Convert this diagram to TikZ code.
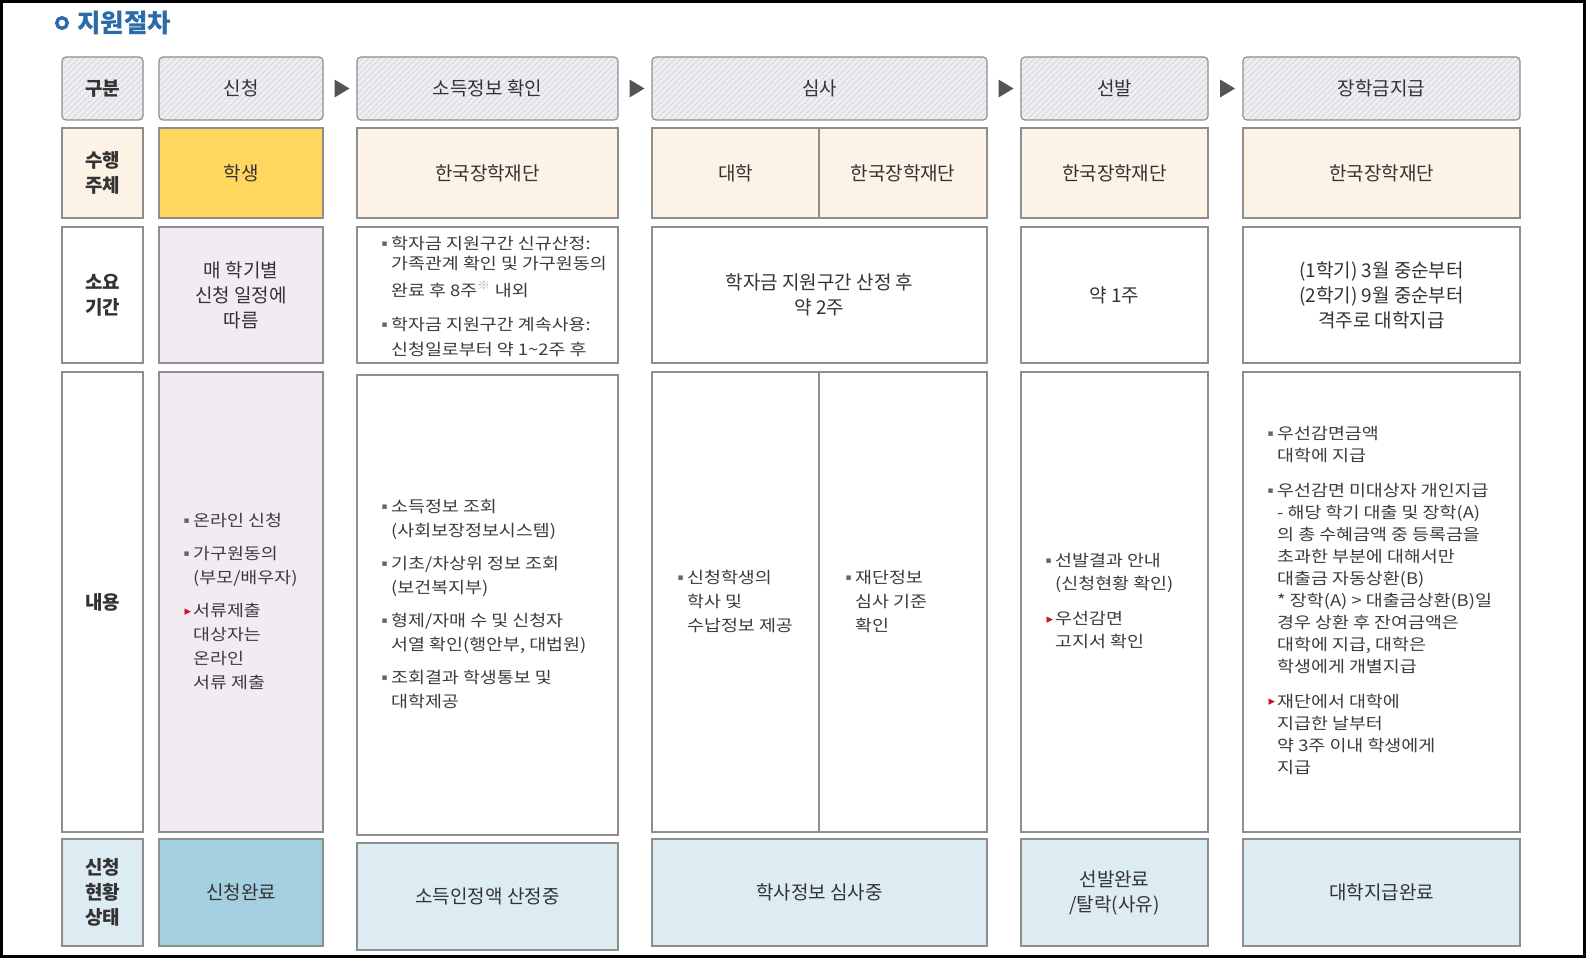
\documentclass[tikz,border=0pt]{standalone}
\usepackage{fontspec}
\setmainfont{Noto Sans CJK KR}
\newfontfamily\krbody[FakeStretch=1.15]{Noto Sans CJK KR}
\newfontfamily\symf{DejaVu Sans}
\usetikzlibrary{calc,patterns.meta}
\definecolor{titleblue}{HTML}{2B6CA8}
\definecolor{cellline}{HTML}{8E8E8E}
\definecolor{hatchbase}{HTML}{EDEEF2}
\definecolor{hatchline}{HTML}{C2C4CB}
\definecolor{cream}{HTML}{FCF2E6}
\definecolor{gold}{HTML}{FFD65E}
\definecolor{lavender}{HTML}{F1ECF2}
\definecolor{paleblue}{HTML}{DDECF2}
\definecolor{midblue}{HTML}{A4CFDF}
\definecolor{txt}{HTML}{333333}
\definecolor{bodytxt}{HTML}{3C3C3C}
\definecolor{bulgray}{HTML}{666666}
\definecolor{arrowgray}{HTML}{555555}
\definecolor{redmark}{HTML}{D0102A}
\newcommand{\bul}{\llap{\raisebox{3pt}{\symf\fontsize{9}{9}\selectfont\color{bulgray}▪}\hspace{3.5pt}}}
\newcommand{\rtri}{\llap{\raisebox{1.5pt}{\symf\fontsize{13}{13}\selectfont\color{redmark}▸}\hspace{2pt}}}

\begin{document}
\begin{tikzpicture}[x=1pt,y=-1pt,
  cell/.style={draw=cellline, line width=1.2pt, inner sep=0pt, align=center, text=txt, font=\fontsize{19}{25}\selectfont},
  head/.style={cell, rounded corners=4pt, preaction={fill=hatchbase}, pattern={Lines[angle=45,distance=4pt,line width=.6pt]}, pattern color=hatchline},
  lab/.style={cell, font=\bfseries\fontsize{19}{25}\selectfont},
  list/.style={anchor=west, align=left, inner sep=0pt, text=bodytxt, font=\krbody\fontsize{16}{24}\selectfont}]
  \useasboundingbox (0,0) rectangle (1586,958);
  \draw[line width=3pt] (1.5,1.5) rectangle (1584.5,956.5);
  % title
  \draw[titleblue, line width=3.4pt] (62,23) circle (5.3);
  \node[anchor=west, inner sep=0pt, text=titleblue, font=\bfseries\fontsize{25.5}{26}\selectfont] (title) at (77,23) {지원절차};
  % header row
  \node[head, font=\bfseries\fontsize{19}{25}\selectfont, minimum width=81, minimum height=63] (h0) at (102.5,88.5) {구분};
  \foreach \n/\xa/\xb/\t in {h1/159/323/신청, h2/357/618/소득정보 확인, h3/652/987/심사, h4/1021/1208/선발, h5/1243/1520/장학금지급}
    \node[head, minimum width={\xb-\xa}, minimum height=63] (\n) at ({(\xa+\xb)/2},88.5) {\t};
  \foreach \a/\b in {h1/h2,h2/h3,h3/h4,h4/h5}
    \fill[arrowgray] ($(\a.east)!.5!(\b.west)+(1.5,0)$) ++(-7,-9) -- ++(15,9) -- ++(-15,9) -- cycle;
  % left column
  \foreach \n/\ya/\yb/\c/\t in {a0/128/218/cream/{수행\\주체}, b0/227/363/white/{소요\\기간}, c0/372/832/white/내용, d0/839/946/paleblue/{신청\\현황\\상태}}
    \node[lab, fill=\c, minimum width=81, minimum height={\yb-\ya}] (\n) at (102.5,{(\ya+\yb)/2}) {\t};
  % row 1
  \foreach \n/\xa/\xb/\c/\t in {a1/159/323/gold/학생, a2/357/618/cream/한국장학재단, a3/652/819/cream/대학, a3b/819/987/cream/한국장학재단, a4/1021/1208/cream/한국장학재단, a5/1243/1520/cream/한국장학재단}
    \node[cell, fill=\c, minimum width={\xb-\xa}, minimum height=90] (\n) at ({(\xa+\xb)/2},173) {\t};
  % row 2
  \foreach \n/\xa/\xb/\c/\t in {b1/159/323/lavender/{매 학기별\\신청 일정에\\따름}, b2/357/618/white/{}, b3/652/987/white/{학자금 지원구간 산정 후\\약 2주}, b4/1021/1208/white/약 1주, b5/1243/1520/white/{(1학기) 3월 중순부터\\(2학기) 9월 중순부터\\격주로 대학지급}}
    \node[cell, fill=\c, minimum width={\xb-\xa}, minimum height=136] (\n) at ({(\xa+\xb)/2},295) {\t};
  % row 3
  \foreach \n/\xa/\xb/\ya/\yb/\c in {c1/159/323/372/832/lavender, c2/357/618/375/835/white, c3/652/819/372/832/white, c3b/819/987/372/832/white, c4/1021/1208/372/832/white, c5/1243/1520/372/832/white}
    \node[cell, fill=\c, minimum width={\xb-\xa}, minimum height={\yb-\ya}] (\n) at ({(\xa+\xb)/2},{(\ya+\yb)/2}) {};
  % row 4
  \foreach \n/\xa/\xb/\ya/\yb/\c/\t in {d1/159/323/839/946/midblue/신청완료, d2/357/618/843/950/paleblue/소득인정액 산정중, d3/652/987/839/946/paleblue/학사정보 심사중, d4/1021/1208/839/946/paleblue/{선발완료\\/탈락(사유)}, d5/1243/1520/839/946/paleblue/대학지급완료}
    \node[cell, fill=\c, minimum width={\xb-\xa}, minimum height={\yb-\ya}] (\n) at ({(\xa+\xb)/2},{(\ya+\yb)/2}) {\t};
  % lists
  \node[list] (b2t) at (391,296) {\bul 학자금 지원구간 신규산정:\\[-4pt]%
    가족관계 확인 및 가구원동의\\[3pt]%
    완료 후 8주\textsuperscript{\color{gray!70}※} 내외\\[10pt]%
    \bul 학자금 지원구간 계속사용:\\[1pt]%
    신청일로부터 약 1\textasciitilde 2주 후};
  \node[list] (c1t) at (193,601.5) {\bul 온라인 신청\\[9pt]%
    \bul 가구원동의\\%
    (부모/배우자)\\[9pt]%
    \rtri 서류제출\\%
    대상자는\\%
    온라인\\%
    서류 제출};
  \node[list] (c2t) at (391,603.5) {\bul 소득정보 조회\\%
    (사회보장정보시스템)\\[9pt]%
    \bul 기초/차상위 정보 조회\\%
    (보건복지부)\\[9pt]%
    \bul 형제/자매 수 및 신청자\\%
    서열 확인(행안부, 대법원)\\[9pt]%
    \bul 조회결과 학생통보 및\\%
    대학제공};
  \node[list] (c3t) at (687,601) {\bul 신청학생의\\학사 및\\수납정보 제공};
  \node[list] (c3bt) at (855,601) {\bul 재단정보\\심사 기준\\확인};
  \node[list, font=\krbody\fontsize{16}{23}\selectfont] (c4t) at (1055,601.5) {\bul 선발결과 안내\\%
    (신청현황 확인)\\[12pt]%
    \rtri 우선감면\\%
    고지서 확인};
  \node[list, font=\krbody\fontsize{16}{22}\selectfont] (c5t) at (1277,600) {\bul 우선감면금액\\%
    대학에 지급\\[13pt]%
    \bul 우선감면 미대상자 개인지급\\%
    - 해당 학기 대출 및 장학(A)\\%
    의 총 수혜금액 중 등록금을\\%
    초과한 부분에 대해서만\\%
    대출금 자동상환(B)\\%
    * 장학(A) > 대출금상환(B)일\\%
    경우 상환 후 잔여금액은\\%
    대학에 지급, 대학은\\%
    학생에게 개별지급\\[13pt]%
    \rtri 재단에서 대학에\\%
    지급한 날부터\\%
    약 3주 이내 학생에게\\%
    지급};
\end{tikzpicture}
\end{document}
